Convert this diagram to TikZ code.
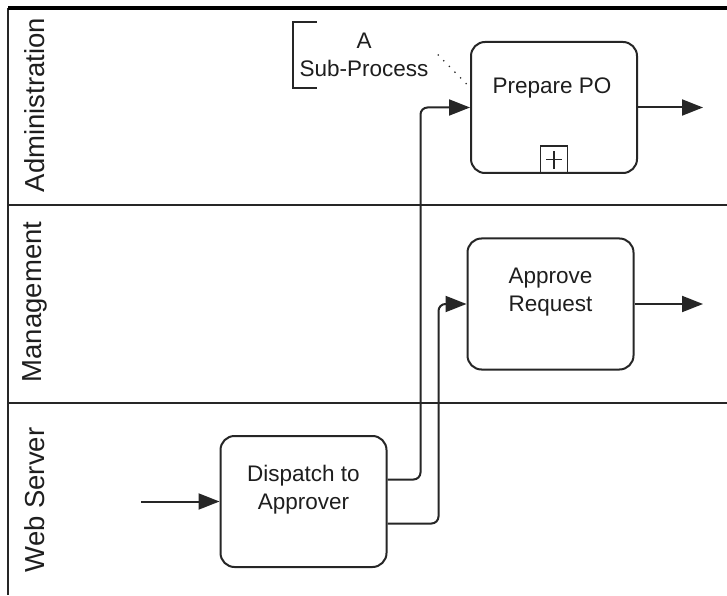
\documentclass[tikz,border=0pt]{standalone}
\usepackage{fontspec}
\setmainfont{Liberation Sans}
\usetikzlibrary{arrows.meta,calc}
\definecolor{lineGray}{HTML}{262626}
\definecolor{textGray}{HTML}{1E1E1E}
\begin{document}
\begin{tikzpicture}[x=1pt,y=1pt,
  lane/.style={draw=lineGray, line width=2.8pt},
  laneLabel/.style={rotate=90, text=textGray, font=\fontsize{27.5}{32}\selectfont},
  task/.style={draw=lineGray, line width=2pt, rounded corners=14pt, minimum width=166pt, minimum height=131pt, inner sep=0pt},
  taskText/.style={align=center, text=textGray, font=\fontsize{22.5}{28}\selectfont},
  flow/.style={draw=lineGray, line width=2pt, rounded corners=7pt, -{Triangle[length=21pt,width=16pt]}},
  assoc/.style={draw=lineGray, line width=1.8pt, line cap=round, dash pattern=on 0pt off 8pt}]
  \useasboundingbox[fill=white] (0,0) rectangle (727,595);
  %--- Pool and lanes
  \draw[lane] (8,587) -- (8,0);
  \draw[lane] (8,390) -- (727,390);
  \draw[lane] (8,192) -- (727,192);
  \draw[line width=4pt, black] (8,587) -- (727,587);
  \node[laneLabel] (lAdmin) at (35,490) {Administration};
  \node[laneLabel] (lMgmt) at (35,293) {Management};
  \node[laneLabel] (lWeb) at (35,95) {Web Server};
  %--- Tasks
  \node[task] (prep) at (554,487.5) {};
  \node[taskText] (prepT) at (552,507) {Prepare PO};
  \node[task] (appr) at (550.5,291) {};
  \node[taskText] (apprT) at (550.5,303) {Approve\\Request};
  \node[task] (disp) at (303.5,93.5) {};
  \node[taskText] (dispT) at (303.5,105.5) {Dispatch to\\Approver};
  % collapsed sub-process marker
  \node[draw=lineGray, line width=1.8pt, minimum size=27pt, inner sep=0pt, anchor=south] (plus) at (prep.south) {};
  \draw[lineGray, line width=1.5pt] ($(plus.center)+(-8,0)$) -- ($(plus.center)+(8,0)$);
  \draw[lineGray, line width=1.5pt] ($(plus.center)+(0,-9)$) -- ($(plus.center)+(0,9)$);
  %--- Annotation
  \node[taskText, minimum width=142pt, minimum height=65pt, inner sep=0pt] (note) at (364,540) {A\\Sub-Process};
  \draw[lineGray, line width=2pt] ($(note.north west)+(24,0)$) -- (note.north west) -- (note.south west) -- ++(24,0);
  \draw[assoc] ($(note.east)+(3,0)$) -- ($(prep.west)+(0,20)$);
  %--- Flows
  \coordinate (start) at (141,93.5);
  \coordinate (endA) at (703,487.5);
  \coordinate (endB) at (703,291);
  \draw[flow] (start) -- (disp.west);
  \draw[flow] ($(disp.east)+(0,22)$) -- ++(33,0) |- (prep.west);
  \draw[flow] ($(disp.east)+(0,-22)$) -- ++(51,0) |- (appr.west);
  \draw[flow] (prep.east) -- (endA);
  \draw[flow] (appr.east) -- (endB);
\end{tikzpicture}
\end{document}
